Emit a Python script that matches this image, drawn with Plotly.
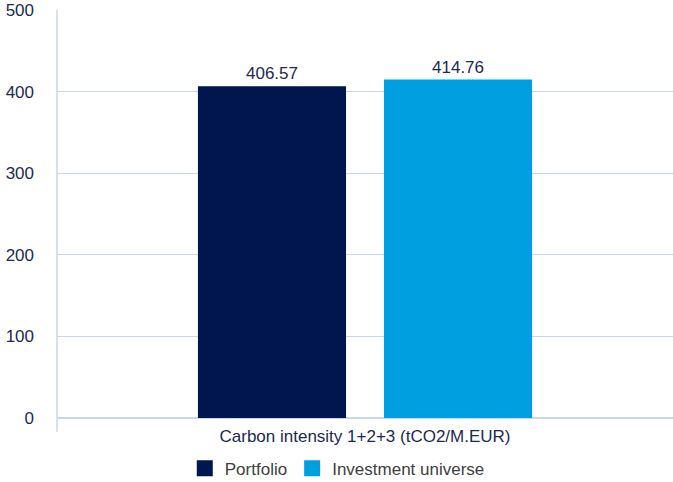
import plotly.graph_objects as go

categories = ["Carbon intensity 1+2+3 (tCO2/M.EUR)"]
series_names = ["Portfolio", "Investment universe"]
portfolio = [406.57]
universe = [414.76]
y_ticks = [0, 100, 200, 300, 400, 500]

colors = ["#01164E", "#009FDF"]
fig = go.Figure()
for name, vals, c in zip(series_names, [portfolio, universe], colors):
    fig.add_trace(go.Bar(
        x=categories, y=vals, name=name, marker_color=c, marker_line_width=0,
        text=[f"{v:.2f}" for v in vals], textposition="outside", cliponaxis=False,
        textfont=dict(family="Liberation Sans, Arial", size=17, color="#1B2A55"),
        showlegend=False,
    ))
# legend entries with larger square swatches
for name, c in zip(series_names, colors):
    fig.add_trace(go.Scatter(
        x=[None], y=[None], mode="markers", name=name,
        marker=dict(symbol="square", size=21, color=c),
    ))

fig.update_layout(
    width=673, height=482,
    margin=dict(l=57, r=0, t=10, b=64, autoexpand=False),
    paper_bgcolor="white", plot_bgcolor="white",
    barmode="group", bargap=0.396, bargroupgap=0.204,
    font=dict(family="Liberation Sans, Arial", color="#1B2A55"),
    showlegend=True,
    legend=dict(orientation="h", x=0.455, xanchor="center", y=-0.08, yanchor="top",
                font=dict(size=17, color="#404040"), itemwidth=30, tracegroupgap=0),
    xaxis=dict(showgrid=False, showline=False, tickfont=dict(size=17, color="#1B2A55"),
               ticks="", ticklen=0, automargin=False, ticklabelstandoff=6),
    yaxis=dict(range=[0, 500], tickvals=y_ticks, showgrid=True, gridcolor="#C9D7E8",
               gridwidth=1, zeroline=True, zerolinecolor="#C9D7E8", zerolinewidth=1.5,
               showline=False, ticks="", tickfont=dict(size=17, color="#1B2A55"),
               ticklabelstandoff=22, automargin=False),
    shapes=[dict(type="line", xref="paper", yref="paper", x0=0, x1=0, y0=-0.034, y1=1,
                 line=dict(color="#C9D7E8", width=1.5))],
)
fig.write_html("out.html", config={"displayModeBar": False},
               post_script="document.body.style.margin='0';document.body.style.overflow='hidden';")
